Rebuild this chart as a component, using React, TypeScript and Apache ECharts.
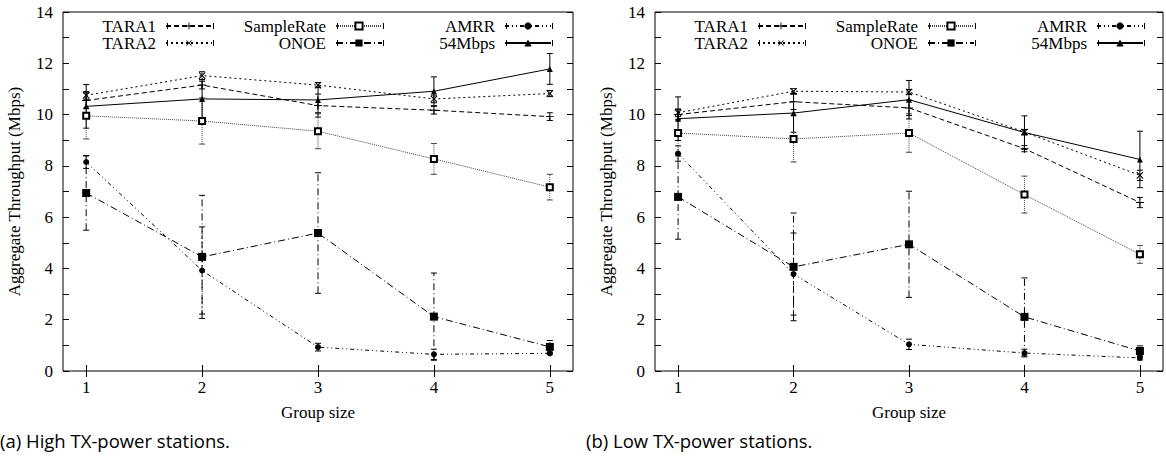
import React, { useEffect, useRef } from "react";
import * as echarts from "echarts";

// ---------- data ----------
const groupSizes = [1, 2, 3, 4, 5];
const seriesNames = ["TARA1", "TARA2", "SampleRate", "ONOE", "AMRR", "54Mbps"];

// (a) High TX-power stations
const tara1High = [10.55, 11.15, 10.35, 10.17, 9.92];
const tara1HighErr = [0.3, 0.15, 0.45, 0.15, 0.15];
const tara2High = [10.75, 11.52, 11.15, 10.61, 10.82];
const tara2HighErr = [0.15, 0.15, 0.1, 0.15, 0.12];
const sampleRateHigh = [9.95, 9.75, 9.35, 8.27, 7.17];
const sampleRateHighErr = [0.9, 0.9, 0.68, 0.6, 0.5];
const onoeHigh = [6.94, 4.45, 5.38, 2.12, 0.94];
const onoeHighErr = [1.45, 2.4, 2.35, 1.7, 0.25];
const amrrHigh = [8.15, 3.92, 0.93, 0.65, 0.69];
const amrrHighErr = [0.25, 1.7, 0.15, 0.2, 0.05];
const mbps54High = [10.32, 10.61, 10.57, 10.91, 11.78];
const mbps54HighErr = [0.85, 0.75, 0.5, 0.56, 0.6];

// (b) Low TX-power stations
const tara1Low = [10.0, 10.5, 10.26, 8.67, 6.57];
const tara1LowErr = [0.2, 0.3, 0.3, 0.12, 0.2];
const tara2Low = [10.07, 10.91, 10.88, 9.32, 7.63];
const tara2LowErr = [0.15, 0.1, 0.1, 0.1, 0.2];
const sampleRateLow = [9.28, 9.05, 9.28, 6.88, 4.55];
const sampleRateLowErr = [0.9, 0.9, 0.75, 0.72, 0.35];
const onoeLow = [6.79, 4.06, 4.94, 2.11, 0.78];
const onoeLowErr = [1.65, 2.1, 2.07, 1.52, 0.2];
const amrrLow = [8.48, 3.78, 1.04, 0.7, 0.51];
const amrrLowErr = [0.3, 1.6, 0.2, 0.15, 0.08];
const mbps54Low = [9.84, 10.06, 10.58, 9.3, 8.25];
const mbps54LowErr = [0.85, 0.75, 0.75, 0.65, 1.1];

const yMin = 0;
const yMax = 14;
const yStep = 2;

const captions = ["(a) High TX-power stations.", "(b) Low TX-power stations."];
const xTitle = "Group size";
const yTitle = "Aggregate Throughput (Mbps)";

// ---------- styles ----------
const SERIF = "Liberation Serif";
const PLUS = "path://M4.4,0H5.6V4.4H10V5.6H5.6V10H4.4V5.6H0V4.4H4.4Z";

const styleOf: Record<string, any> = {
  TARA1: { dash: [5, 3], symbol: PLUS, size: 8, rotate: 0, color: "#000" },
  TARA2: { dash: [2, 3], symbol: PLUS, size: 9, rotate: 45, color: "#000" },
  SampleRate: { dash: [1, 1], symbol: "emptyRect", size: 6, rotate: 0, color: "#444" },
  ONOE: { dash: [7, 3, 1, 3], symbol: "rect", size: 8, rotate: 0, color: "#000" },
  AMRR: { dash: [4, 3, 1, 3, 1, 3], symbol: "circle", size: 6, rotate: 0, color: "#000" },
  "54Mbps": { dash: "solid", symbol: "triangle", size: 6, rotate: 0, color: "#000" },
};

const panels = [
  {
    left: 63,
    width: 510,
    values: [tara1High, tara2High, sampleRateHigh, onoeHigh, amrrHigh, mbps54High],
    errors: [tara1HighErr, tara2HighErr, sampleRateHighErr, onoeHighErr, amrrHighErr, mbps54HighErr],
  },
  {
    left: 655,
    width: 508,
    values: [tara1Low, tara2Low, sampleRateLow, onoeLow, amrrLow, mbps54Low],
    errors: [tara1LowErr, tara2LowErr, sampleRateLowErr, onoeLowErr, amrrLowErr, mbps54LowErr],
  },
];

const GRID_TOP = 12;
const GRID_H = 359;
const W = 1166;

// legend layout: [name, icon right edge offset from grid left, row center y]
const legendLayout: [string, number, number][] = [
  ["TARA1", 150, 26],
  ["SampleRate", 320, 26],
  ["AMRR", 489, 26],
  ["TARA2", 150, 43],
  ["ONOE", 320, 43],
  ["54Mbps", 489, 43],
];
const LEG_W = 46;

function buildOption() {
  const grid: any[] = [];
  const xAxis: any[] = [];
  const yAxis: any[] = [];
  const lineSeries: any[] = [];
  const barSeries: any[] = [];
  const legend: any[] = [];
  const graphic: any[] = [];

  const tickCommon = { show: true, inside: true, length: 6, lineStyle: { color: "#000", width: 1 } };
  const labelStyle = { fontFamily: SERIF, fontSize: 17, color: "#000" };

  panels.forEach((p, pi) => {
    grid.push({
      left: p.left,
      top: GRID_TOP,
      width: p.width,
      height: GRID_H,
      show: true,
      borderColor: "#000",
      borderWidth: 1,
      backgroundColor: "transparent",
    });
    const xBase = {
      type: "value",
      gridIndex: pi,
      min: 0.8,
      max: 5.2,
      axisLine: { show: false },
      splitLine: { show: false },
      axisTick: { ...tickCommon, customValues: groupSizes },
    };
    xAxis.push({
      ...xBase,
      position: "bottom",
      axisLabel: { ...labelStyle, margin: 8, customValues: groupSizes },
      name: xTitle,
      nameLocation: "middle",
      nameGap: 33,
      nameTextStyle: labelStyle,
    });
    xAxis.push({ ...xBase, position: "top", axisLabel: { show: false } });
    const yBase = {
      type: "value",
      gridIndex: pi,
      min: yMin,
      max: yMax,
      interval: yStep,
      axisLine: { show: false },
      splitLine: { show: false },
      axisTick: tickCommon,
      minorTick: { show: true, splitNumber: 2, length: 6, lineStyle: { color: "#000", width: 1 } },
    };
    yAxis.push({
      ...yBase,
      position: "left",
      axisLabel: { ...labelStyle, margin: 10 },
      name: yTitle,
      nameLocation: "middle",
      nameGap: 40,
      nameRotate: 90,
      nameTextStyle: labelStyle,
    });
    yAxis.push({ ...yBase, position: "right", axisLabel: { show: false } });

    seriesNames.forEach((name, si) => {
      const st = styleOf[name];
      const vals = p.values[si];
      const errs = p.errors[si];
      lineSeries.push({
        name,
        type: "line",
        xAxisIndex: pi * 2,
        yAxisIndex: pi * 2,
        z: 3,
        silent: true,
        data: groupSizes.map((g, k) => [g, vals[k]]),
        symbol: st.symbol,
        symbolSize: st.size,
        symbolRotate: st.rotate,
        showSymbol: true,
        lineStyle: { color: st.color, width: 1, type: st.dash },
        itemStyle: { color: "#000", borderColor: "#000", borderWidth: st.symbol === "emptyRect" ? 1 : 0 },
      });
      barSeries.push({
        name,
        type: "custom",
        xAxisIndex: pi * 2,
        yAxisIndex: pi * 2,
        z: 2,
        silent: true,
        encode: { x: 0, y: [1, 2] },
        data: groupSizes.map((g, k) => [g, vals[k] - errs[k], vals[k] + errs[k]]),
        renderItem: (params: any, api: any) => {
          const x = api.value(0);
          const lo = api.coord([x, api.value(1)]);
          const hi = api.coord([x, api.value(2)]);
          const w = 3;
          const s = { stroke: st.color, lineWidth: 1 };
          return {
            type: "group",
            children: [
              {
                type: "line",
                shape: { x1: lo[0], y1: lo[1], x2: hi[0], y2: hi[1] },
                style: { ...s, lineDash: st.dash === "solid" ? null : st.dash },
              },
              { type: "line", shape: { x1: lo[0] - w, y1: lo[1], x2: lo[0] + w, y2: lo[1] }, style: s },
              { type: "line", shape: { x1: hi[0] - w, y1: hi[1], x2: hi[0] + w, y2: hi[1] }, style: s },
            ],
          };
        },
      });
    });

    legendLayout.forEach(([name, off, cy]) => {
      const rightEdge = p.left + off;
      legend.push({
        data: [name],
        right: W - rightEdge,
        top: cy - 8.5,
        orient: "horizontal",
        align: "right",
        padding: 0,
        itemGap: 0,
        itemWidth: LEG_W,
        itemHeight: 9,
        selectedMode: false,
        textStyle: { ...labelStyle, padding: [0, 5, 0, 0] },
      });
      [rightEdge - LEG_W, rightEdge].forEach((cx) => {
        graphic.push({
          type: "line",
          shape: { x1: cx + 0.5, y1: cy - 3, x2: cx + 0.5, y2: cy + 3 },
          style: { stroke: "#000", lineWidth: 1 },
          silent: true,
        });
      });
    });
  });

  graphic.push({
    type: "text",
    left: 0,
    top: 431,
    style: { text: captions[0], font: "18.5px 'Open Sans'", fill: "#000" },
  });
  graphic.push({
    type: "text",
    left: 586,
    top: 431,
    style: { text: captions[1], font: "18.5px 'Open Sans'", fill: "#000" },
  });

  return {
    animation: false,
    backgroundColor: "#fff",
    grid,
    xAxis,
    yAxis,
    legend,
    series: [...lineSeries, ...barSeries],
    graphic,
  };
}

export default function App() {
  const ref = useRef<HTMLDivElement>(null);
  useEffect(() => {
    if (!ref.current) return;
    const chart = echarts.init(ref.current, null, { renderer: "svg" });
    chart.setOption(buildOption() as any);
    return () => chart.dispose();
  }, []);
  return (
    <div
      ref={ref}
      style={{ position: "absolute", left: 0, top: 0, width: 1166, height: 458, background: "#fff" }}
    />
  );
}
